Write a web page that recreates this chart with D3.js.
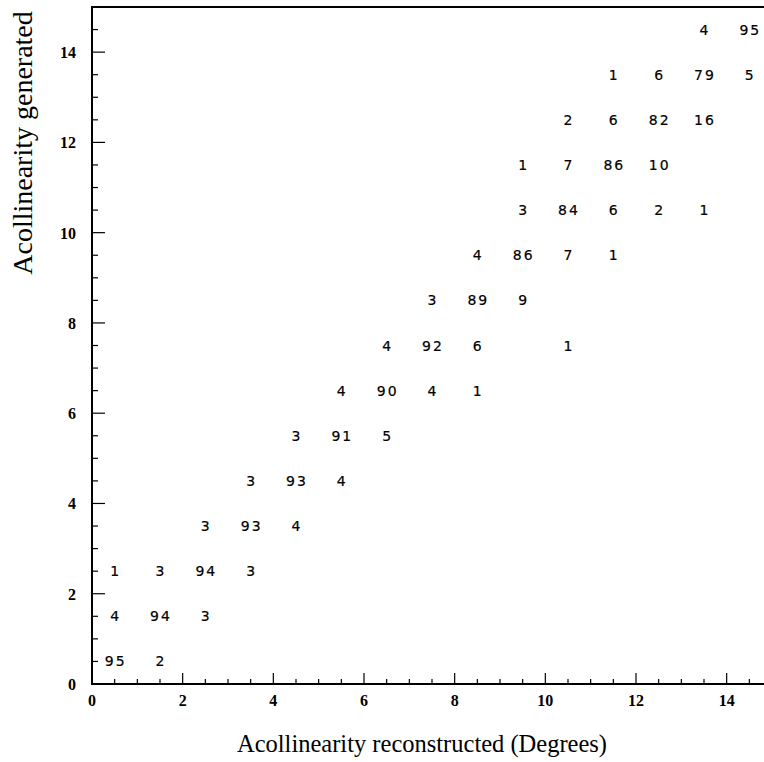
<!DOCTYPE html>
<html><head><meta charset="utf-8">
<script src="https://cdn.jsdelivr.net/npm/d3@7"></script>
<style>body{margin:0;background:#fff}svg{display:block}</style>
</head><body>
<script>
// Cell centres (reconstructed, generated) and the percentage printed there
const recon = [0.5,1.5, 0.5,1.5,2.5, 0.5,1.5,2.5,3.5, 2.5,3.5,4.5, 3.5,4.5,5.5, 4.5,5.5,6.5,
  5.5,6.5,7.5,8.5, 6.5,7.5,8.5,10.5, 7.5,8.5,9.5, 8.5,9.5,10.5,11.5, 9.5,10.5,11.5,12.5,13.5,
  9.5,10.5,11.5,12.5, 10.5,11.5,12.5,13.5, 11.5,12.5,13.5,14.5, 13.5,14.5];
const gen = [0.5,0.5, 1.5,1.5,1.5, 2.5,2.5,2.5,2.5, 3.5,3.5,3.5, 4.5,4.5,4.5, 5.5,5.5,5.5,
  6.5,6.5,6.5,6.5, 7.5,7.5,7.5,7.5, 8.5,8.5,8.5, 9.5,9.5,9.5,9.5, 10.5,10.5,10.5,10.5,10.5,
  11.5,11.5,11.5,11.5, 12.5,12.5,12.5,12.5, 13.5,13.5,13.5,13.5, 14.5,14.5];
const counts = [95,2, 4,94,3, 1,3,94,3, 3,93,4, 3,93,4, 3,91,5,
  4,90,4,1, 4,92,6,1, 3,89,9, 4,86,7,1, 3,84,6,2,1,
  1,7,86,10, 2,6,82,16, 1,6,79,5, 4,95];
const xTicks = [0,2,4,6,8,10,12,14];
const yTicks = [0,2,4,6,8,10,12,14];
const xTitle = "Acollinearity reconstructed (Degrees)";
const yTitle = "Acollinearity generated";

const W = 764, H = 762;
const svg = d3.select("body").append("svg").attr("width", W).attr("height", H);
const x = d3.scaleLinear().domain([0,15]).range([92, 772]);
const y = d3.scaleLinear().domain([0,15]).range([684, 7]);
const minor = d3.range(0, 15.01, 0.5);

const serif = "'Liberation Serif','Times New Roman',serif";
const sans = "'DejaVu Sans',Arial,sans-serif";

// frame
svg.append("rect").attr("x", x(0)).attr("y", y(15)).attr("width", x(15)-x(0)).attr("height", y(0)-y(15))
  .attr("fill","none").attr("stroke","#000").attr("stroke-width",2);

// x ticks (inward)
svg.append("g").selectAll("line").data(minor).join("line")
  .attr("x1", d=>x(d)).attr("x2", d=>x(d)).attr("y1", y(0))
  .attr("y2", d=> y(0) - (d%2===0 ? 11 : 5)).attr("stroke","#000").attr("stroke-width",1.2);
// y ticks
svg.append("g").selectAll("line").data(minor).join("line")
  .attr("y1", d=>y(d)).attr("y2", d=>y(d)).attr("x1", x(0))
  .attr("x2", d=> x(0) + (d%2===0 ? 13 : 6)).attr("stroke","#000").attr("stroke-width",1.2);

svg.append("g").selectAll("text").data(xTicks).join("text")
  .attr("x", d=>x(d)).attr("y", 706).attr("text-anchor","middle")
  .attr("font-family", serif).attr("font-size", 16).attr("font-weight","bold").text(d=>d);
svg.append("g").selectAll("text").data(yTicks).join("text")
  .attr("x", 76).attr("y", d=>y(d)+6).attr("text-anchor","end")
  .attr("font-family", serif).attr("font-size", 16).attr("font-weight","bold").text(d=>d);

// cell numbers
svg.append("g").selectAll("text").data(counts).join("text")
  .attr("x", (d,i)=>x(recon[i]) + 1).attr("y", (d,i)=>y(gen[i]) + 5)
  .attr("text-anchor","middle").attr("font-family", sans).attr("font-size", 14)
  .attr("letter-spacing", "2px").attr("stroke","#000").attr("stroke-width",0.2).text(d=>d);

svg.append("text").attr("x", 422).attr("y", 752).attr("text-anchor","middle")
  .attr("font-family", serif).attr("font-size", 24.5).text(xTitle);
svg.append("text").attr("transform","translate(32,143) rotate(-90)").attr("text-anchor","middle")
  .attr("font-family", serif).attr("font-size", 28).text(yTitle);
</script>
</body></html>
